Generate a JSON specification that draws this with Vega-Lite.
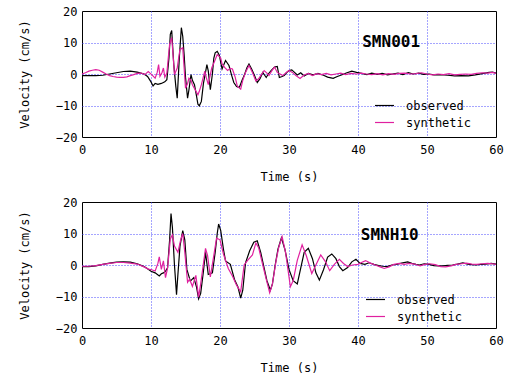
{
  "$schema": "https://vega.github.io/schema/vega-lite/v6.json",
  "background": "white",
  "padding": {"left": 17, "top": 4, "right": 10, "bottom": 4},
  "config": {
    "view": {"stroke": "black", "strokeWidth": 1},
    "font": "DejaVu Sans Mono",
    "axis": {
      "domain": false, "ticks": false, "grid": true,
      "gridColor": "#4a4aff", "gridDash": [1, 2], "gridWidth": 1,
      "labelFont": "DejaVu Sans Mono", "labelFontSize": 12, "labelColor": "black",
      "titleFont": "DejaVu Sans Mono", "titleFontSize": 12, "titleFontWeight": "normal", "titleColor": "black",
      "labelFlush": false
    },
    "axisX": {"labelPadding": 7, "titlePadding": 16},
    "axisY": {"labelPadding": 5, "titlePadding": 24},
    "legend": {
      "orient": "none", "symbolType": "stroke", "symbolStrokeWidth": 1.2, "symbolSize": 361,
      "labelFont": "DejaVu Sans Mono", "labelFontSize": 12, "labelColor": "black",
      "labelOffset": 11, "rowPadding": -12, "padding": 0, "title": null
    }
  },
  "datasets": {
    "smn001_observed": [
      {"time":0,"velocity":-0.5},{"time":1,"velocity":-0.5},{"time":2,"velocity":-0.5},{"time":3,"velocity":-0.4},{"time":4,"velocity":0},{"time":5,"velocity":0.4},{"time":6,"velocity":0.8},{"time":7,"velocity":0.9},{"time":8,"velocity":0.6},{"time":9,"velocity":0},{"time":9.5,"velocity":-0.8},{"time":10,"velocity":-2.5},{"time":10.3,"velocity":-3.8},{"time":10.6,"velocity":-3},{"time":11,"velocity":-3.3},{"time":11.5,"velocity":-3},{"time":12,"velocity":-2.5},{"time":12.3,"velocity":-1.8},{"time":12.6,"velocity":5},{"time":12.8,"velocity":12.6},{"time":13,"velocity":13.8},{"time":13.3,"velocity":3},{"time":13.6,"velocity":-4},{"time":13.8,"velocity":-7.7},{"time":14.1,"velocity":5},{"time":14.4,"velocity":14.7},{"time":14.6,"velocity":12},{"time":14.8,"velocity":6.2},{"time":15,"velocity":-1},{"time":15.3,"velocity":-7.7},{"time":15.5,"velocity":-5},{"time":15.8,"velocity":-0.2},{"time":16,"velocity":-2},{"time":16.3,"velocity":-3.4},{"time":16.6,"velocity":-7},{"time":16.8,"velocity":-9.6},{"time":17,"velocity":-10.1},{"time":17.3,"velocity":-8.7},{"time":17.6,"velocity":-3},{"time":17.8,"velocity":-0.7},{"time":18.1,"velocity":3},{"time":18.3,"velocity":1},{"time":18.6,"velocity":-5},{"time":18.9,"velocity":0},{"time":19.1,"velocity":5},{"time":19.3,"velocity":6.7},{"time":19.6,"velocity":7.2},{"time":19.9,"velocity":6},{"time":20.3,"velocity":1.6},{"time":20.8,"velocity":4.3},{"time":21.3,"velocity":2.7},{"time":21.7,"velocity":-0.5},{"time":22,"velocity":-2.7},{"time":22.4,"velocity":-4},{"time":22.8,"velocity":-4.3},{"time":23.2,"velocity":-2},{"time":23.5,"velocity":-0.5},{"time":23.9,"velocity":2},{"time":24.2,"velocity":3.2},{"time":24.6,"velocity":1.5},{"time":25,"velocity":-0.5},{"time":25.4,"velocity":-2.7},{"time":25.8,"velocity":-1.5},{"time":26.2,"velocity":0.5},{"time":26.7,"velocity":-1.1},{"time":27,"velocity":0},{"time":27.4,"velocity":1.1},{"time":27.9,"velocity":2.2},{"time":28.3,"velocity":2.4},{"time":28.6,"velocity":-1.1},{"time":29,"velocity":-0.8},{"time":29.3,"velocity":-0.5},{"time":29.7,"velocity":0.5},{"time":30,"velocity":1.1},{"time":30.4,"velocity":1.3},{"time":30.8,"velocity":0.5},{"time":31.2,"velocity":-0.3},{"time":31.7,"velocity":0.4},{"time":32.2,"velocity":-0.6},{"time":32.8,"velocity":0.2},{"time":33.5,"velocity":-0.3},{"time":34.2,"velocity":0.2},{"time":35,"velocity":-0.4},{"time":35.6,"velocity":-1},{"time":36.4,"velocity":-1.4},{"time":37,"velocity":-0.8},{"time":37.6,"velocity":-0.3},{"time":38.3,"velocity":0.3},{"time":39.1,"velocity":0.9},{"time":39.8,"velocity":0.5},{"time":40.5,"velocity":0.2},{"time":41.3,"velocity":-0.2},{"time":42,"velocity":0.3},{"time":42.8,"velocity":-0.1},{"time":43.5,"velocity":0.2},{"time":44.3,"velocity":-0.3},{"time":45,"velocity":0},{"time":45.8,"velocity":0.3},{"time":46.5,"velocity":-0.2},{"time":47.3,"velocity":0.4},{"time":48,"velocity":0},{"time":48.8,"velocity":0.3},{"time":49.5,"velocity":-0.1},{"time":50.3,"velocity":0},{"time":51,"velocity":-0.3},{"time":52,"velocity":-0.2},{"time":53,"velocity":-0.4},{"time":54,"velocity":-0.6},{"time":55,"velocity":-0.5},{"time":56,"velocity":-0.6},{"time":57,"velocity":-0.3},{"time":58,"velocity":0.1},{"time":59,"velocity":0.5},{"time":59.5,"velocity":0.6},{"time":60,"velocity":0.3}
    ],
    "smn001_synthetic": [
      {"time":0,"velocity":0},{"time":0.5,"velocity":0.4},{"time":1,"velocity":0.9},{"time":1.5,"velocity":1.2},{"time":2,"velocity":1.4},{"time":2.5,"velocity":1.2},{"time":3,"velocity":0.6},{"time":3.5,"velocity":0},{"time":4,"velocity":-0.5},{"time":4.5,"velocity":-0.8},{"time":5,"velocity":-1},{"time":5.5,"velocity":-1.1},{"time":6,"velocity":-1.1},{"time":6.5,"velocity":-0.9},{"time":7,"velocity":-0.5},{"time":7.5,"velocity":-0.2},{"time":8,"velocity":0.2},{"time":8.6,"velocity":0.3},{"time":9.1,"velocity":-0.2},{"time":9.6,"velocity":0.8},{"time":10.1,"velocity":-0.2},{"time":10.6,"velocity":-1.3},{"time":10.9,"velocity":0.5},{"time":11.1,"velocity":3},{"time":11.3,"velocity":-0.7},{"time":11.6,"velocity":0.5},{"time":11.8,"velocity":1.9},{"time":12,"velocity":-1},{"time":12.3,"velocity":0.3},{"time":12.5,"velocity":5},{"time":12.7,"velocity":9.4},{"time":13,"velocity":11.5},{"time":13.2,"velocity":6},{"time":13.4,"velocity":-0.2},{"time":13.8,"velocity":1.9},{"time":14,"velocity":5},{"time":14.2,"velocity":7.8},{"time":14.6,"velocity":8.3},{"time":14.8,"velocity":2},{"time":15,"velocity":-4.5},{"time":15.3,"velocity":-3},{"time":15.5,"velocity":-1.3},{"time":15.8,"velocity":-2},{"time":16,"velocity":-3.4},{"time":16.4,"velocity":-5},{"time":16.8,"velocity":-6.6},{"time":17,"velocity":-5.5},{"time":17.3,"velocity":-3.4},{"time":17.8,"velocity":0.9},{"time":18,"velocity":-1},{"time":18.3,"velocity":-3.4},{"time":18.8,"velocity":1.9},{"time":19.2,"velocity":4},{"time":19.6,"velocity":6.2},{"time":20.1,"velocity":5.1},{"time":20.3,"velocity":3.2},{"time":20.7,"velocity":2},{"time":21.1,"velocity":1.1},{"time":21.5,"velocity":1.8},{"time":21.8,"velocity":1.6},{"time":22.2,"velocity":-1},{"time":22.5,"velocity":-3.8},{"time":23,"velocity":-4.8},{"time":23.3,"velocity":-2},{"time":23.7,"velocity":0.5},{"time":24.2,"velocity":2.7},{"time":24.7,"velocity":0.5},{"time":25.2,"velocity":-2.2},{"time":25.6,"velocity":-1.5},{"time":25.9,"velocity":-0.5},{"time":26.4,"velocity":1.1},{"time":26.8,"velocity":0.3},{"time":27.1,"velocity":-0.5},{"time":27.5,"velocity":1},{"time":27.9,"velocity":2.2},{"time":28.3,"velocity":0.5},{"time":28.7,"velocity":0},{"time":29.1,"velocity":-0.5},{"time":29.6,"velocity":0.5},{"time":30,"velocity":1.1},{"time":30.5,"velocity":0.5},{"time":31,"velocity":-0.5},{"time":31.6,"velocity":-1.4},{"time":32.2,"velocity":-0.3},{"time":32.8,"velocity":0.2},{"time":33.4,"velocity":-0.5},{"time":34,"velocity":0.1},{"time":34.7,"velocity":-0.2},{"time":35.4,"velocity":0.2},{"time":36.1,"velocity":-0.3},{"time":36.8,"velocity":0},{"time":37.5,"velocity":0.3},{"time":38.2,"velocity":-0.2},{"time":39,"velocity":0.2},{"time":39.8,"velocity":0},{"time":40.5,"velocity":0.3},{"time":41.2,"velocity":0},{"time":42,"velocity":-0.2},{"time":42.8,"velocity":0.1},{"time":43.6,"velocity":-0.3},{"time":44.4,"velocity":0.1},{"time":45.2,"velocity":-0.1},{"time":46,"velocity":0.2},{"time":46.8,"velocity":0.3},{"time":47.6,"velocity":0},{"time":48.4,"velocity":0.1},{"time":49.2,"velocity":0.4},{"time":50,"velocity":0},{"time":50.8,"velocity":-0.3},{"time":51.6,"velocity":0},{"time":52.4,"velocity":-0.2},{"time":53.2,"velocity":0.1},{"time":54,"velocity":-0.3},{"time":54.8,"velocity":-0.1},{"time":55.6,"velocity":0},{"time":56.4,"velocity":-0.1},{"time":57.2,"velocity":0.2},{"time":58,"velocity":0.4},{"time":58.8,"velocity":0.3},{"time":59.5,"velocity":0.5},{"time":60,"velocity":0.2}
    ],
    "smnh10_observed": [
      {"time":0,"velocity":-0.5},{"time":1,"velocity":-0.5},{"time":2,"velocity":-0.3},{"time":3,"velocity":0.2},{"time":4,"velocity":0.6},{"time":5,"velocity":0.9},{"time":6,"velocity":1},{"time":7,"velocity":0.9},{"time":8,"velocity":0.4},{"time":9,"velocity":-0.5},{"time":9.5,"velocity":-1.2},{"time":10,"velocity":-2},{"time":10.6,"velocity":-2.5},{"time":11.2,"velocity":-3.5},{"time":11.5,"velocity":-2.8},{"time":11.8,"velocity":-2.5},{"time":12.1,"velocity":-2},{"time":12.4,"velocity":-0.9},{"time":12.7,"velocity":8},{"time":12.9,"velocity":16.3},{"time":13.1,"velocity":12},{"time":13.4,"velocity":0},{"time":13.7,"velocity":-9.4},{"time":13.9,"velocity":-3},{"time":14.2,"velocity":6},{"time":14.6,"velocity":10.9},{"time":14.9,"velocity":8},{"time":15.2,"velocity":-1.4},{"time":15.7,"velocity":-5.1},{"time":16.2,"velocity":-4},{"time":16.6,"velocity":-7},{"time":16.9,"velocity":-10.7},{"time":17.2,"velocity":-9},{"time":17.6,"velocity":-2},{"time":17.9,"velocity":4},{"time":18.3,"velocity":-3},{"time":18.9,"velocity":-2.5},{"time":19.3,"velocity":4},{"time":19.6,"velocity":10},{"time":19.8,"velocity":13},{"time":20.1,"velocity":11},{"time":20.5,"velocity":5},{"time":20.8,"velocity":1.3},{"time":21.5,"velocity":0.2},{"time":22.1,"velocity":-4.6},{"time":22.6,"velocity":-7},{"time":23,"velocity":-10.5},{"time":23.3,"velocity":-8},{"time":23.7,"velocity":0.7},{"time":24.3,"velocity":4.5},{"time":24.9,"velocity":7.2},{"time":25.4,"velocity":7.7},{"time":25.9,"velocity":4},{"time":26.4,"velocity":-1},{"time":26.8,"velocity":-5},{"time":27.3,"velocity":-8},{"time":27.6,"velocity":-6},{"time":28,"velocity":0},{"time":28.4,"velocity":5},{"time":28.9,"velocity":8.6},{"time":29.4,"velocity":5},{"time":30,"velocity":-1.4},{"time":30.6,"velocity":-5},{"time":31.2,"velocity":-6},{"time":31.7,"velocity":-1},{"time":32.2,"velocity":4},{"time":32.8,"velocity":5.3},{"time":33.4,"velocity":2},{"time":33.9,"velocity":-2.5},{"time":34.4,"velocity":-4.8},{"time":35,"velocity":-1.5},{"time":35.6,"velocity":2.5},{"time":36.2,"velocity":3.5},{"time":36.8,"velocity":2},{"time":37.3,"velocity":-0.5},{"time":37.8,"velocity":-1.8},{"time":38.5,"velocity":-0.8},{"time":39.1,"velocity":1},{"time":39.7,"velocity":1.8},{"time":40.3,"velocity":0.5},{"time":41,"velocity":0.2},{"time":41.6,"velocity":0.7},{"time":42.3,"velocity":0.2},{"time":43,"velocity":-0.2},{"time":43.6,"velocity":-0.4},{"time":44.2,"velocity":-0.5},{"time":44.9,"velocity":0},{"time":45.6,"velocity":0.2},{"time":46.3,"velocity":0.6},{"time":47.2,"velocity":1},{"time":47.8,"velocity":0.5},{"time":48.4,"velocity":0.2},{"time":48.9,"velocity":0},{"time":49.6,"velocity":0.4},{"time":50.3,"velocity":0.2},{"time":51,"velocity":-0.2},{"time":51.7,"velocity":-0.3},{"time":52.3,"velocity":-0.3},{"time":53,"velocity":-0.1},{"time":53.7,"velocity":0},{"time":54.4,"velocity":0.3},{"time":55.2,"velocity":0.7},{"time":55.9,"velocity":0.3},{"time":56.5,"velocity":0.1},{"time":57.1,"velocity":0},{"time":57.8,"velocity":0.2},{"time":58.5,"velocity":0.3},{"time":59.3,"velocity":0.5},{"time":60,"velocity":0.3}
    ],
    "smnh10_synthetic": [
      {"time":0,"velocity":-0.4},{"time":1,"velocity":-0.4},{"time":2,"velocity":-0.2},{"time":3,"velocity":0.2},{"time":4,"velocity":0.5},{"time":5,"velocity":0.8},{"time":6,"velocity":0.8},{"time":7,"velocity":0.6},{"time":8,"velocity":0.3},{"time":9,"velocity":-0.6},{"time":9.6,"velocity":-1.3},{"time":10.1,"velocity":-1.5},{"time":10.6,"velocity":-1.9},{"time":11,"velocity":0.5},{"time":11.2,"velocity":2.6},{"time":11.5,"velocity":-1.4},{"time":11.8,"velocity":1.3},{"time":12.1,"velocity":-4},{"time":12.4,"velocity":-1},{"time":12.8,"velocity":8.3},{"time":13.1,"velocity":9.6},{"time":13.4,"velocity":6},{"time":13.9,"velocity":4},{"time":14.3,"velocity":8},{"time":14.6,"velocity":10},{"time":14.9,"velocity":4},{"time":15.3,"velocity":-5.5},{"time":15.6,"velocity":-4.5},{"time":16,"velocity":-6.8},{"time":16.5,"velocity":-3.3},{"time":16.9,"velocity":-10.2},{"time":17.2,"velocity":-6},{"time":17.9,"velocity":5.3},{"time":18.2,"velocity":3},{"time":18.6,"velocity":-3.8},{"time":19.1,"velocity":3},{"time":19.5,"velocity":8.5},{"time":20,"velocity":8},{"time":20.5,"velocity":3.5},{"time":21.2,"velocity":-1.1},{"time":21.8,"velocity":-3.5},{"time":22.4,"velocity":-6.4},{"time":23,"velocity":-8.5},{"time":23.5,"velocity":0},{"time":24,"velocity":1.5},{"time":24.7,"velocity":3.2},{"time":25.2,"velocity":7},{"time":25.6,"velocity":5.5},{"time":26.2,"velocity":0},{"time":26.7,"velocity":-4.5},{"time":27.2,"velocity":-8.8},{"time":27.6,"velocity":-6},{"time":28.1,"velocity":1},{"time":28.5,"velocity":5.5},{"time":29,"velocity":9},{"time":29.5,"velocity":4},{"time":30.2,"velocity":-6.9},{"time":30.6,"velocity":-5},{"time":31.2,"velocity":1.5},{"time":31.9,"velocity":6.4},{"time":32.5,"velocity":3},{"time":33.3,"velocity":-2.7},{"time":34,"velocity":0.5},{"time":34.6,"velocity":3.2},{"time":35.3,"velocity":1},{"time":35.9,"velocity":-1.8},{"time":36.6,"velocity":0.3},{"time":37.3,"velocity":1.8},{"time":37.9,"velocity":0.5},{"time":38.5,"velocity":-0.5},{"time":39.2,"velocity":0},{"time":40,"velocity":0.2},{"time":40.5,"velocity":0.8},{"time":41.1,"velocity":1.4},{"time":41.8,"velocity":0.6},{"time":42.5,"velocity":0},{"time":43.2,"velocity":-0.6},{"time":43.8,"velocity":-1.1},{"time":44.5,"velocity":-0.6},{"time":45.2,"velocity":0.2},{"time":46,"velocity":0.5},{"time":46.7,"velocity":0.2},{"time":47.4,"velocity":0.5},{"time":48.2,"velocity":0.3},{"time":49,"velocity":-0.3},{"time":49.7,"velocity":0.2},{"time":50.4,"velocity":0.4},{"time":51.2,"velocity":0.1},{"time":52,"velocity":-0.5},{"time":52.7,"velocity":-0.6},{"time":53.5,"velocity":-0.3},{"time":54.2,"velocity":0.2},{"time":55,"velocity":0.4},{"time":55.7,"velocity":0.6},{"time":56.5,"velocity":0.3},{"time":57.2,"velocity":0.2},{"time":58,"velocity":0.4},{"time":58.8,"velocity":0.5},{"time":59.5,"velocity":0.4},{"time":60,"velocity":0.2}
    ]
  },
  "spacing": 65,
  "bounds": "flush",
  "resolve": {"scale": {"color": "independent"}, "legend": {"color": "independent"}},
  "vconcat": [
    {
      "width": 414, "height": 126,
      "layer": [
        {"data": {"name": "smn001_observed"}, "mark": {"type": "line", "strokeWidth": 1.2},
         "encoding": {
           "x": {"field": "time", "type": "quantitative", "scale": {"domain": [0, 60], "nice": false},
                 "axis": {"title": "Time (s)", "values": [0, 10, 20, 30, 40, 50, 60],
                          "gridOpacity": {"condition": {"test": "datum.value == 0 || datum.value == 60", "value": 0}, "value": 1}}},
           "y": {"field": "velocity", "type": "quantitative", "scale": {"domain": [-20, 20], "nice": false},
                 "axis": {"title": "Velocity (cm/s)", "values": [-20, -10, 0, 10, 20],
                          "gridOpacity": {"condition": {"test": "abs(datum.value) == 20", "value": 0}, "value": 1}}},
           "color": {"datum": "observed", "type": "nominal",
             "scale": {"domain": ["observed", "synthetic"], "range": ["#000000", "#e0209f"]},
             "legend": {"legendX": 292, "legendY": 84}}}},
        {"data": {"name": "smn001_synthetic"}, "mark": {"type": "line", "strokeWidth": 1.2},
         "encoding": {
           "x": {"field": "time", "type": "quantitative", "scale": {"domain": [0, 60], "nice": false},
                 "axis": {"title": "Time (s)", "values": [0, 10, 20, 30, 40, 50, 60],
                          "gridOpacity": {"condition": {"test": "datum.value == 0 || datum.value == 60", "value": 0}, "value": 1}}},
           "y": {"field": "velocity", "type": "quantitative", "scale": {"domain": [-20, 20], "nice": false},
                 "axis": {"title": "Velocity (cm/s)", "values": [-20, -10, 0, 10, 20],
                          "gridOpacity": {"condition": {"test": "abs(datum.value) == 20", "value": 0}, "value": 1}}},
           "color": {"datum": "synthetic", "type": "nominal"}}},
        {"data": {"values": [{"station": "SMN001"}]},
         "mark": {"type": "text", "font": "DejaVu Sans Mono", "fontSize": 16, "fontWeight": "bold", "align": "center", "baseline": "middle", "color": "black"},
         "encoding": {
           "x": {"datum": 44.8, "type": "quantitative", "scale": {"domain": [0, 60], "nice": false},
                 "axis": {"title": "Time (s)", "values": [0, 10, 20, 30, 40, 50, 60],
                          "gridOpacity": {"condition": {"test": "datum.value == 0 || datum.value == 60", "value": 0}, "value": 1}}},
           "y": {"datum": 10.3, "type": "quantitative", "scale": {"domain": [-20, 20], "nice": false},
                 "axis": {"title": "Velocity (cm/s)", "values": [-20, -10, 0, 10, 20],
                          "gridOpacity": {"condition": {"test": "abs(datum.value) == 20", "value": 0}, "value": 1}}},
           "text": {"field": "station"}}}
      ]
    },
    {
      "width": 414, "height": 126,
      "layer": [
        {"data": {"name": "smnh10_observed"}, "mark": {"type": "line", "strokeWidth": 1.2},
         "encoding": {
           "x": {"field": "time", "type": "quantitative", "scale": {"domain": [0, 60], "nice": false},
                 "axis": {"title": "Time (s)", "values": [0, 10, 20, 30, 40, 50, 60],
                          "gridOpacity": {"condition": {"test": "datum.value == 0 || datum.value == 60", "value": 0}, "value": 1}}},
           "y": {"field": "velocity", "type": "quantitative", "scale": {"domain": [-20, 20], "nice": false},
                 "axis": {"title": "Velocity (cm/s)", "values": [-20, -10, 0, 10, 20],
                          "gridOpacity": {"condition": {"test": "abs(datum.value) == 20", "value": 0}, "value": 1}}},
           "color": {"datum": "observed", "type": "nominal",
             "scale": {"domain": ["observed", "synthetic"], "range": ["#000000", "#e0209f"]},
             "legend": {"legendX": 283, "legendY": 87}}}},
        {"data": {"name": "smnh10_synthetic"}, "mark": {"type": "line", "strokeWidth": 1.2},
         "encoding": {
           "x": {"field": "time", "type": "quantitative", "scale": {"domain": [0, 60], "nice": false},
                 "axis": {"title": "Time (s)", "values": [0, 10, 20, 30, 40, 50, 60],
                          "gridOpacity": {"condition": {"test": "datum.value == 0 || datum.value == 60", "value": 0}, "value": 1}}},
           "y": {"field": "velocity", "type": "quantitative", "scale": {"domain": [-20, 20], "nice": false},
                 "axis": {"title": "Velocity (cm/s)", "values": [-20, -10, 0, 10, 20],
                          "gridOpacity": {"condition": {"test": "abs(datum.value) == 20", "value": 0}, "value": 1}}},
           "color": {"datum": "synthetic", "type": "nominal"}}},
        {"data": {"values": [{"station": "SMNH10"}]},
         "mark": {"type": "text", "font": "DejaVu Sans Mono", "fontSize": 16, "fontWeight": "bold", "align": "center", "baseline": "middle", "color": "black"},
         "encoding": {
           "x": {"datum": 44.6, "type": "quantitative", "scale": {"domain": [0, 60], "nice": false},
                 "axis": {"title": "Time (s)", "values": [0, 10, 20, 30, 40, 50, 60],
                          "gridOpacity": {"condition": {"test": "datum.value == 0 || datum.value == 60", "value": 0}, "value": 1}}},
           "y": {"datum": 9.5, "type": "quantitative", "scale": {"domain": [-20, 20], "nice": false},
                 "axis": {"title": "Velocity (cm/s)", "values": [-20, -10, 0, 10, 20],
                          "gridOpacity": {"condition": {"test": "abs(datum.value) == 20", "value": 0}, "value": 1}}},
           "text": {"field": "station"}}}
      ]
    }
  ]
}
